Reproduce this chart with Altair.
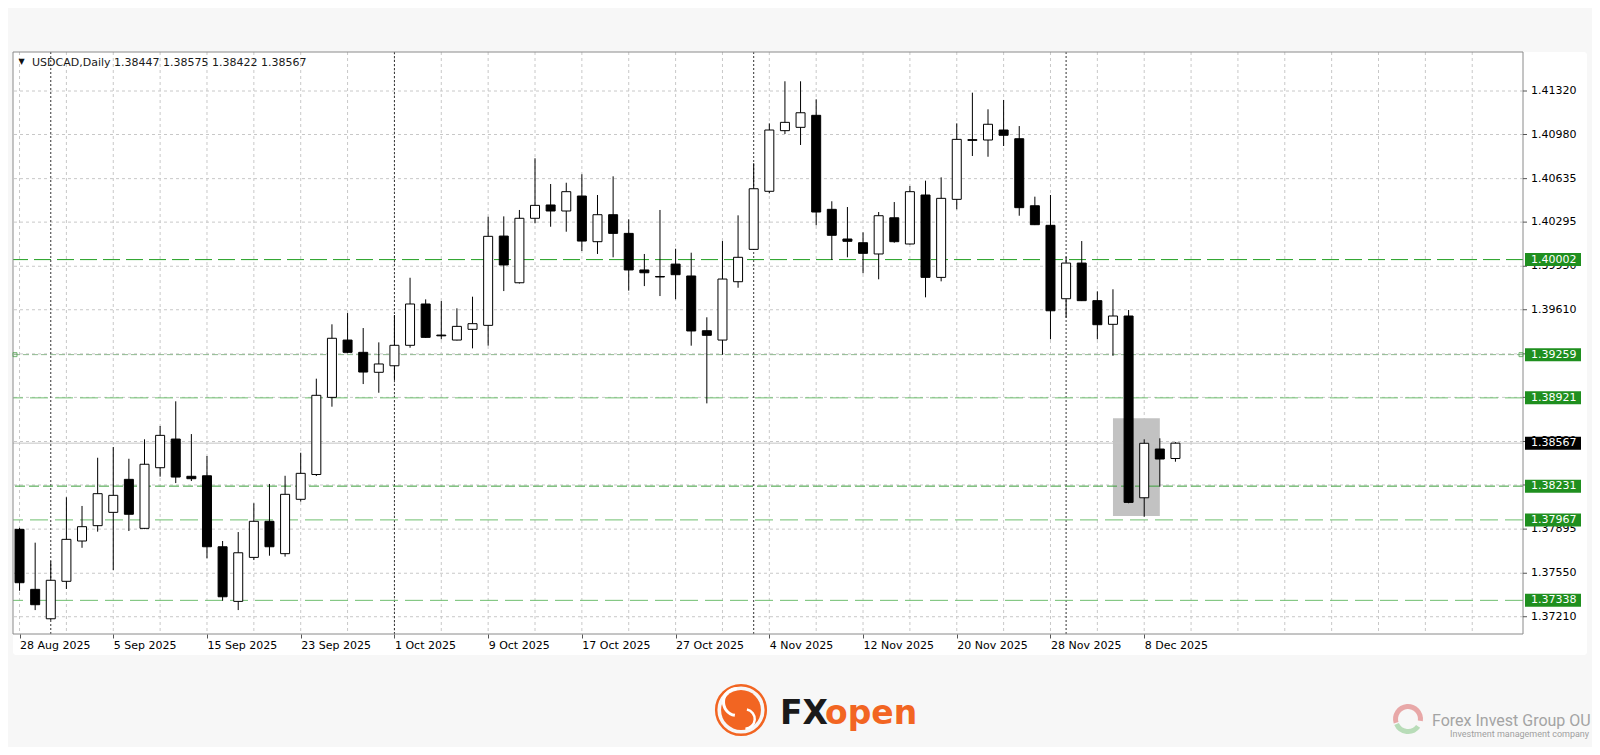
import altair as alt
import pandas as pd

# ---------------- data ----------------
opens = [1.37893, 1.37424, 1.37194, 1.37487, 1.37802, 1.37922, 1.38026, 1.38284, 1.37901, 1.38375,
         1.38599, 1.38308, 1.38312, 1.37757, 1.37330, 1.37674, 1.37956, 1.37703, 1.38128, 1.38322,
         1.38925, 1.39373, 1.39277, 1.39121, 1.39172, 1.39332, 1.39655, 1.39412, 1.39373, 1.39457,
         1.39488, 1.40186, 1.39821, 1.40325, 1.40429, 1.40382, 1.40499, 1.40142, 1.40353, 1.40207,
         1.39921, 1.39870, 1.39967, 1.39874, 1.39446, 1.39373, 1.39829, 1.40082, 1.40536, 1.41010,
         1.41036, 1.41130, 1.40395, 1.40163, 1.40134, 1.40046, 1.40329, 1.40124, 1.40507, 1.39863,
         1.40473, 1.40940, 1.40937, 1.41015, 1.40947, 1.40423, 1.40270, 1.39696, 1.39975, 1.39681,
         1.39496, 1.39561, 1.38140, 1.38521, 1.38447]
highs = [1.37905, 1.37789, 1.37643, 1.38144, 1.38076, 1.38453, 1.38537, 1.38445, 1.38597, 1.38701,
         1.38894, 1.38638, 1.38466, 1.37802, 1.37872, 1.38097, 1.38248, 1.38312, 1.38492, 1.39071,
         1.39496, 1.39584, 1.39467, 1.39355, 1.39569, 1.39860, 1.39691, 1.39678, 1.39621, 1.39712,
         1.40337, 1.40340, 1.40390, 1.40794, 1.40593, 1.40603, 1.40669, 1.40507, 1.40653, 1.40317,
         1.40046, 1.40390, 1.40087, 1.40056, 1.39551, 1.40147, 1.40348, 1.40755, 1.41067, 1.41396,
         1.41396, 1.41255, 1.40458, 1.40413, 1.40215, 1.40374, 1.40452, 1.40577, 1.40619, 1.40645,
         1.41067, 1.41307, 1.41177, 1.41250, 1.41046, 1.40494, 1.40507, 1.40025, 1.40147, 1.39754,
         1.39770, 1.39608, 1.38597, 1.38605, 1.38575]
lows = [1.37413, 1.37262, 1.37184, 1.37427, 1.37749, 1.37875, 1.37575, 1.37880, 1.37895, 1.38305,
        1.38255, 1.38271, 1.37667, 1.37335, 1.37262, 1.37653, 1.37687, 1.37680, 1.38110, 1.38310,
        1.38852, 1.39270, 1.39029, 1.38961, 1.39061, 1.39313, 1.39390, 1.39379, 1.39370, 1.39308,
        1.39329, 1.39756, 1.39815, 1.40286, 1.40259, 1.40220, 1.40069, 1.40046, 1.40020, 1.39759,
        1.39795, 1.39717, 1.39692, 1.39329, 1.38878, 1.39258, 1.39782, 1.40077, 1.40520, 1.40984,
        1.40898, 1.40270, 1.39999, 1.40020, 1.39895, 1.39848, 1.40134, 1.40120, 1.39707, 1.39832,
        1.40395, 1.40812, 1.40806, 1.40890, 1.40345, 1.40272, 1.39379, 1.39548, 1.39678, 1.39379,
        1.39250, 1.38097, 1.37992, 1.38226, 1.38422]
closes = [1.37476, 1.37304, 1.37495, 1.37815, 1.37914, 1.38172, 1.38159, 1.38011, 1.38402, 1.38628,
          1.38302, 1.38289, 1.37757, 1.37366, 1.37710, 1.37956, 1.37757, 1.38167, 1.38331, 1.38941,
          1.39387, 1.39277, 1.39123, 1.39186, 1.39332, 1.39655, 1.39394, 1.39406, 1.39480, 1.39501,
          1.40184, 1.39960, 1.40325, 1.40426, 1.40382, 1.40533, 1.40147, 1.40353, 1.40207, 1.39921,
          1.39899, 1.39866, 1.39884, 1.39444, 1.39410, 1.39850, 1.40020, 1.40556, 1.41015, 1.41075,
          1.41150, 1.40374, 1.40192, 1.40145, 1.40051, 1.40345, 1.40142, 1.40533, 1.39863, 1.40481,
          1.40942, 1.40934, 1.41060, 1.40974, 1.40408, 1.40275, 1.39602, 1.39975, 1.39681, 1.39493,
          1.39561, 1.38104, 1.38566, 1.38443, 1.38567]

date_labels = ["28 Aug 2025", "5 Sep 2025", "15 Sep 2025", "23 Sep 2025", "1 Oct 2025",
               "9 Oct 2025", "17 Oct 2025", "27 Oct 2025", "4 Nov 2025", "12 Nov 2025",
               "20 Nov 2025", "28 Nov 2025", "8 Dec 2025"]
label_bars = [0, 6, 12, 18, 24, 30, 36, 42, 48, 54, 60, 66, 72]
grid_bars = list(range(0, 96, 3))
separator_bars = [2, 24, 47, 67]

price_ticks = [1.41320, 1.40980, 1.40635, 1.40295, 1.39950, 1.39610, 1.39265,
               1.38925, 1.38580, 1.38240, 1.37895, 1.37550, 1.37210]
level_prices = [1.40002, 1.39259, 1.38921, 1.38231, 1.37967, 1.37338]
level_kind = ["strong", "fine", "light", "mid", "light", "light"]
last_price = 1.38567
zone_bars = [70, 73]
zone_prices = [1.38761, 1.37997]
header_text = "USDCAD,Daily 1.38447 1.38575 1.38422 1.38567"

# ---------------- geometry / styles ----------------
W, H = 1510, 582
FONT = "DejaVu Sans"
xs = alt.Scale(domain=[-0.0986, 95.93], nice=False, zero=False)
ys = alt.Scale(domain=[1.37075, 1.41625], nice=False, zero=False)

labels_js = "[" + ",".join("'" + d + "'" for d in date_labels) + "]"
xaxis = alt.Axis(values=label_bars, labelExpr=labels_js + "[round(datum.value/6)]",
                 title=None, orient="bottom", domain=False, grid=False, ticks=True,
                 tickSize=4, tickColor="#555555", labelAlign="left", labelFont=FONT,
                 labelFontSize=11, labelColor="#000000", labelPadding=1,
                 labelFlush=False, labelOverlap=False, zindex=1)


def X(field):
    return alt.X(field, type="quantitative", scale=xs, axis=xaxis)


def Y(field):
    return alt.Y(field, type="quantitative", scale=ys, axis=None)


one = pd.DataFrame({"k": [0]})
candles = pd.DataFrame({"i": list(range(len(opens))), "o": opens, "h": highs,
                        "l": lows, "c": closes})
candles["dir"] = ["up" if c >= o else "down" for o, c in zip(opens, closes)]
grid_x = pd.DataFrame({"i": grid_bars})
grid_y = pd.DataFrame({"p": price_ticks})
seps = pd.DataFrame({"i": separator_bars})
zone = pd.DataFrame({"i0": [zone_bars[0]], "i1": [zone_bars[1]],
                     "top": [zone_prices[0]], "bot": [zone_prices[1]]})
levels = pd.DataFrame({"p": level_prices, "kind": level_kind,
                       "txt": [f"{v:.5f}" for v in level_prices]})
last = pd.DataFrame({"p": [last_price], "txt": [f"{last_price:.5f}"]})
ticks_df = pd.DataFrame({"p": price_ticks, "txt": [f"{v:.5f}" for v in price_ticks]})

layers = []

# white panel behind the chart
layers.append(alt.Chart(one).mark_rect(fill="white", cornerRadius=3).encode(
    x=alt.value(0), x2=alt.value(1574), y=alt.value(0), y2=alt.value(603)))

# dotted grid
layers.append(alt.Chart(grid_x).mark_rule(color="#c8c8c8", strokeDash=[3, 3], strokeWidth=1,
                                          clip=True).encode(x=X("i")))
layers.append(alt.Chart(grid_y).mark_rule(color="#c8c8c8", strokeDash=[3, 3], strokeWidth=1,
                                          clip=True).encode(y=Y("p")))
# period separators
layers.append(alt.Chart(seps).mark_rule(color="#333333", strokeDash=[2, 2], strokeWidth=1,
                                        clip=True).encode(x=X("i")))
# highlighted zone
layers.append(alt.Chart(zone).mark_rect(color="#c2c2c2", clip=True).encode(
    x=X("i0"), x2="i1:Q", y=Y("top"), y2="bot:Q"))
# current price line
layers.append(alt.Chart(last).mark_rule(color="#c4c4c4", strokeWidth=1, clip=True).encode(y=Y("p")))

# horizontal levels
kind_dom = ["strong", "fine", "light", "mid"]
layers.append(alt.Chart(levels).mark_rule(strokeWidth=1, clip=True).encode(
    y=Y("p"),
    color=alt.Color("kind:N", scale=alt.Scale(domain=kind_dom,
                                               range=["#1f9e1f", "#8fb88f", "#6fbf6f", "#3a9f3a"]),
                    legend=None),
    strokeDash=alt.StrokeDash("kind:N", scale=alt.Scale(domain=kind_dom,
                                                         range=[[17, 6], [6, 3], [18, 7], [10, 4]]),
                              legend=None)))

# candles
layers.append(alt.Chart(candles).mark_rule(color="black", strokeWidth=1, clip=True).encode(
    x=X("i"), y=Y("l"), y2="h:Q"))
layers.append(alt.Chart(candles).mark_bar(size=9, stroke="black", strokeWidth=1, clip=True).encode(
    x=X("i"), y=Y("o"), y2="c:Q",
    fill=alt.Fill("dir:N", scale=alt.Scale(domain=["up", "down"], range=["white", "black"]),
                  legend=None)))

# plot frame
layers.append(alt.Chart(one).mark_rect(fillOpacity=0, stroke="#8a8a8a", strokeWidth=1).encode(
    x=alt.value(0), x2=alt.value(W), y=alt.value(0), y2=alt.value(H)))

# right price axis (ticks + labels)
layers.append(alt.Chart(ticks_df).mark_rule(color="#555555", strokeWidth=1).encode(
    x=alt.value(W), x2=alt.value(W + 4), y=Y("p")))
layers.append(alt.Chart(ticks_df).mark_text(align="left", baseline="middle", font=FONT,
                                            fontSize=11, color="#000000").encode(
    x=alt.value(W + 8), y=Y("p"), text="txt:N"))

# level tags
layers.append(alt.Chart(levels).mark_rule(color="#1f8f1f", strokeWidth=13, strokeCap="butt").encode(
    x=alt.value(W + 2), x2=alt.value(W + 58), y=Y("p")))
layers.append(alt.Chart(levels).mark_text(align="left", baseline="middle", font=FONT,
                                          fontSize=11, color="white").encode(
    x=alt.value(W + 8), y=Y("p"), text="txt:N"))
layers.append(alt.Chart(last).mark_rule(color="black", strokeWidth=13, strokeCap="butt").encode(
    x=alt.value(W + 2), x2=alt.value(W + 58), y=Y("p")))
layers.append(alt.Chart(last).mark_text(align="left", baseline="middle", font=FONT,
                                        fontSize=11, color="white").encode(
    x=alt.value(W + 8), y=Y("p"), text="txt:N"))

# anchor squares of the selected line
sel = levels[levels["kind"] == "fine"]
for px in (2, W - 2):
    layers.append(alt.Chart(sel).mark_square(size=16, filled=False, color="#3a9a3a",
                                             strokeWidth=1).encode(x=alt.value(px), y=Y("p")))

# header
layers.append(alt.Chart(one).mark_text(text="▼", align="center", baseline="alphabetic",
                                       font=FONT, fontSize=8, color="#111111").encode(
    x=alt.value(8.5), y=alt.value(12)))
layers.append(alt.Chart(one).mark_text(text=header_text, align="left", baseline="alphabetic",
                                       font=FONT, fontSize=11, color="#1a1a1a").encode(
    x=alt.value(19), y=alt.value(13.5)))

# FXOpen logo
orange = "#f26522"
layers.append(alt.Chart(one).mark_point(shape="circle", size=2463, filled=False, color=orange,
                                        strokeWidth=2.5, opacity=1).encode(
    x=alt.value(728), y=alt.value(658)))
layers.append(alt.Chart(one).mark_point(shape="circle", size=1590, filled=True, color=orange,
                                        opacity=1).encode(x=alt.value(728), y=alt.value(658)))
layers.append(alt.Chart(one).mark_arc(radius=15, radius2=12, theta=3.3, theta2=6.3,
                                      color="white").encode(x=alt.value(724), y=alt.value(650)))
layers.append(alt.Chart(one).mark_arc(radius=11, radius2=8.5, theta=0.2, theta2=3.1,
                                      color="white").encode(x=alt.value(732), y=alt.value(667)))
layers.append(alt.Chart(one).mark_text(text="FX", align="left", baseline="alphabetic", font=FONT,
                                       fontWeight="bold", fontSize=33, color="#1a1a1a").encode(
    x=alt.value(767), y=alt.value(672)))
layers.append(alt.Chart(one).mark_text(text="open", align="left", baseline="alphabetic", font=FONT,
                                       fontWeight="bold", fontSize=33, color=orange).encode(
    x=alt.value(812), y=alt.value(672)))

# Forex Invest Group OU
layers.append(alt.Chart(one).mark_arc(radius=15, radius2=10, theta=4.4, theta2=8.0,
                                      color="#e8a8a8").encode(x=alt.value(1395), y=alt.value(667)))
layers.append(alt.Chart(one).mark_arc(radius=15, radius2=10, theta=2.2, theta2=4.3,
                                      color="#b8dcb8").encode(x=alt.value(1395), y=alt.value(667)))
layers.append(alt.Chart(one).mark_text(text="Forex Invest Group OU", align="left",
                                       baseline="alphabetic", font="Roboto", fontSize=16,
                                       color="#a4a4a4").encode(x=alt.value(1419), y=alt.value(674)))
layers.append(alt.Chart(one).mark_text(text="Investment management company", align="left",
                                       baseline="alphabetic", font="Roboto", fontSize=9,
                                       color="#a0a0a0").encode(x=alt.value(1437), y=alt.value(685)))

chart = alt.layer(*layers).properties(
    width=W, height=H,
    padding={"left": 5, "top": 44, "right": 69, "bottom": 113},
    autosize=alt.AutoSizeParams(type="none"),
    background="#f7f7f7",
).configure_view(stroke=None)

chart.save("out.html", embed_options={"renderer": "svg", "actions": False})
